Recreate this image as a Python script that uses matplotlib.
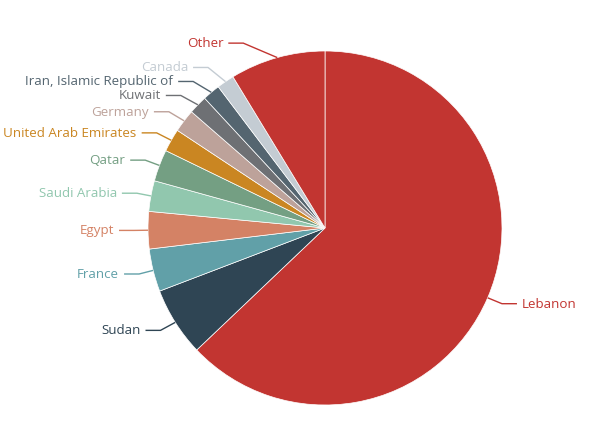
import numpy as np
import matplotlib.pyplot as plt

# share of each country (percent)
countries = ['Lebanon', 'Sudan', 'France', 'Egypt', 'Saudi Arabia', 'Qatar',
             'United Arab Emirates', 'Germany', 'Kuwait',
             'Iran, Islamic Republic of', 'Canada', 'Other']
shares = [62.9, 6.3, 3.9, 3.4, 2.8, 2.9, 2.1, 2.1, 1.7, 1.6, 1.6, 8.7]
colors = ['#c23531', '#2f4554', '#61a0a8', '#d48265', '#91c7ae', '#749f83',
          '#ca8622', '#bda29a', '#6e7074', '#546570', '#c4ccd3', '#c23531']

W, H = 596, 442
cx, cy, r = 325, H - 228, 177
len1, len2 = 15, 15
text_h = 14

plt.rcParams['font.family'] = ['Open Sans', 'DejaVu Sans']
fig = plt.figure(figsize=(W / 100, H / 100), dpi=100)
ax = fig.add_axes([0, 0, 1, 1])

wedges, _ = ax.pie(shares, colors=colors, startangle=90, counterclock=False,
                   center=(cx, cy), radius=r,
                   wedgeprops=dict(edgecolor='white', linewidth=0.5))
ax.set_xlim(0, W)
ax.set_ylim(0, H)
ax.set_aspect('equal')
ax.axis('off')

# label positions, echarts style: radial stub, then horizontal stub
labels = []
for w, name, col in zip(wedges, countries, colors):
    a = np.deg2rad((w.theta1 + w.theta2) / 2)
    dx, dy = np.cos(a), np.sin(a)
    labels.append({'name': name, 'color': col, 'side': 1 if dx >= 0 else -1,
                   'p0': (cx + r * dx, cy + r * dy),
                   'y': cy + (r + len1) * dy})

# push overlapping labels apart on each side
for side in (1, -1):
    group = sorted([l for l in labels if l['side'] == side], key=lambda l: l['y'])
    for _ in range(50):
        for lo, hi in zip(group[:-1], group[1:]):
            d = hi['y'] - lo['y']
            if d < text_h:
                lo['y'] -= (text_h - d) / 2
                hi['y'] += (text_h - d) / 2

R3 = r + len1 + len2 + 4
for l in labels:
    s = l['side']
    dyl = abs(l['y'] - cy)
    tx = cx + s * np.sqrt(max(R3 ** 2 - dyl ** 2, 0))
    x_end = tx - s * 5
    x_bend = x_end - s * len2
    ax.plot([l['p0'][0], x_bend, x_end], [l['p0'][1], l['y'], l['y']],
            color=l['color'], lw=1, solid_capstyle='butt')
    ax.text(tx, l['y'] - 0.5, l['name'], color=l['color'], fontsize=9.6,
            ha='left' if s > 0 else 'right', va='center')

plt.savefig('out.png', dpi=100)
